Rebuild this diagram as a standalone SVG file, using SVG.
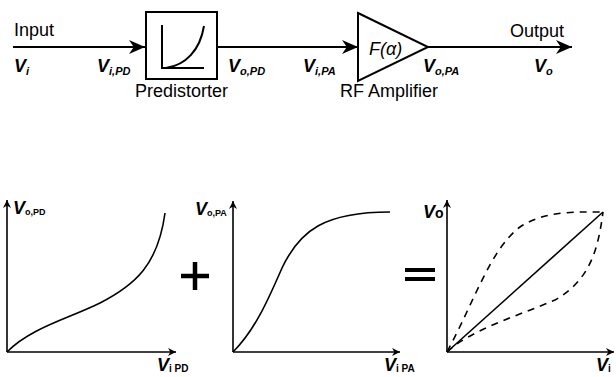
<svg xmlns="http://www.w3.org/2000/svg" width="616" height="377" viewBox="0 0 616 377">
<defs>
<style>
.t{font-family:"Liberation Sans",Arial,sans-serif;font-size:18px;fill:#000}
.v{font-family:"Liberation Sans",Arial,sans-serif;font-size:18px;font-style:italic;font-weight:bold;fill:#000}
.s{font-size:11px}
.ln{fill:none;stroke:#000;stroke-width:2}
.thin{fill:none;stroke:#000;stroke-width:1.6}
.dash{fill:none;stroke:#000;stroke-width:1.6;stroke-dasharray:7 6}
</style>
<marker id="ah" viewBox="0 0 10 10" refX="10" refY="5" markerWidth="8" markerHeight="8" markerUnits="userSpaceOnUse" orient="auto">
<path d="M0,0 L10,5 L0,10 L3,5 Z" fill="#000"/>
</marker>
<marker id="big" viewBox="0 0 10 10" refX="10" refY="5" markerWidth="16" markerHeight="14" markerUnits="userSpaceOnUse" orient="auto" preserveAspectRatio="none">
<path d="M0,0 L10,5 L0,10 L3,5 Z" fill="#000"/>
</marker>
</defs>

<g id="connectors">
<line class="ln" x1="13" y1="47" x2="145" y2="47" marker-end="url(#big)"/>
<line class="ln" x1="217" y1="47" x2="358" y2="47" marker-end="url(#big)"/>
<line class="ln" x1="428" y1="47" x2="572" y2="47" marker-end="url(#big)"/>
</g>

<g id="input">
<text class="t" x="14" y="36">Input</text>
<text class="v" x="14" y="72">V<tspan class="s" dy="3">i</tspan></text>
</g>
<g id="predistorter">
<rect x="146" y="12" width="71" height="67" fill="#fff" stroke="#000" stroke-width="2"/>
<path class="ln" d="M162,25 V68 H204"/>
<path class="ln" d="M166,68 C186,65 200,50 204,26"/>
<text class="v" x="97" y="72">V<tspan class="s" dy="3">i,PD</tspan></text>
<text class="v" x="228" y="72">V<tspan class="s" dy="3">o,PD</tspan></text>
<text class="t" x="135" y="97">Predistorter</text>
</g>
<g id="amplifier">
<path d="M358,13 L428,47 L358,81 Z" fill="#fff" stroke="#000" stroke-width="2"/>
<text class="t" x="369" y="55" font-style="italic" font-size="20">F(α)</text>
<text class="v" x="303" y="72">V<tspan class="s" dy="3">i,PA</tspan></text>
<text class="v" x="423" y="72">V<tspan class="s" dy="3">o,PA</tspan></text>
<text class="t" x="340" y="97">RF Amplifier</text>
</g>
<g id="output">
<text class="t" x="510" y="37">Output</text>
<text class="v" x="534" y="72">V<tspan class="s" dy="3">o</tspan></text>
</g>

<g id="graph-pd">
<line class="thin" x1="7" y1="352" x2="7" y2="200" marker-end="url(#ah)"/>
<line class="thin" x1="7" y1="352" x2="176" y2="352" marker-end="url(#ah)"/>
<path class="thin" d="M7,352 C30,328 70,318 100,303 C135,285 158,265 165,213"/>
<text class="v" x="13" y="214" font-weight="normal">V<tspan dy="1" font-style="normal" font-size="9" font-weight="bold">o,PD</tspan></text>
<text class="v" x="157" y="371" font-weight="normal">V<tspan dy="1" font-style="normal" font-size="10">i PD</tspan></text>
</g>
<g id="plus">
<path d="M181,276 H209 M195,262 V290" stroke="#000" stroke-width="4.5" fill="none"/>
</g>
<g id="graph-pa">
<line class="thin" x1="233" y1="352" x2="233" y2="201" marker-end="url(#ah)"/>
<line class="thin" x1="233" y1="352" x2="400" y2="352" marker-end="url(#ah)"/>
<path class="thin" d="M233,352 C255,330 268,300 282,268 C300,230 325,212 390,212"/>
<text class="v" x="195" y="215" font-weight="normal">V<tspan dy="1" font-style="normal" font-size="9" font-weight="bold">o,PA</tspan></text>
<text class="v" x="384" y="371" font-weight="normal">V<tspan dy="1" font-style="normal" font-size="10">i PA</tspan></text>
</g>
<g id="equals">
<path d="M405,270 H435 M405,279 H435" stroke="#000" stroke-width="4" fill="none"/>
</g>
<g id="graph-result">
<line class="thin" x1="447" y1="352" x2="447" y2="200" marker-end="url(#ah)"/>
<line class="thin" x1="447" y1="352" x2="614" y2="352" marker-end="url(#ah)"/>
<line class="thin" x1="447" y1="352" x2="603" y2="212"/>
<path class="dash" d="M447,352 C475,300 490,250 520,227 C545,210 580,212 603,212"/>
<path class="dash" d="M447,352 C470,330 520,315 555,300 C590,280 598,250 603,212"/>
<text class="v" x="423" y="218" font-weight="normal">V<tspan dy="0" font-style="normal" font-size="14">o</tspan></text>
<text class="v" x="596" y="371" font-weight="normal">V<tspan dy="1" font-style="normal" font-size="10">i</tspan></text>
</g>
</svg>
